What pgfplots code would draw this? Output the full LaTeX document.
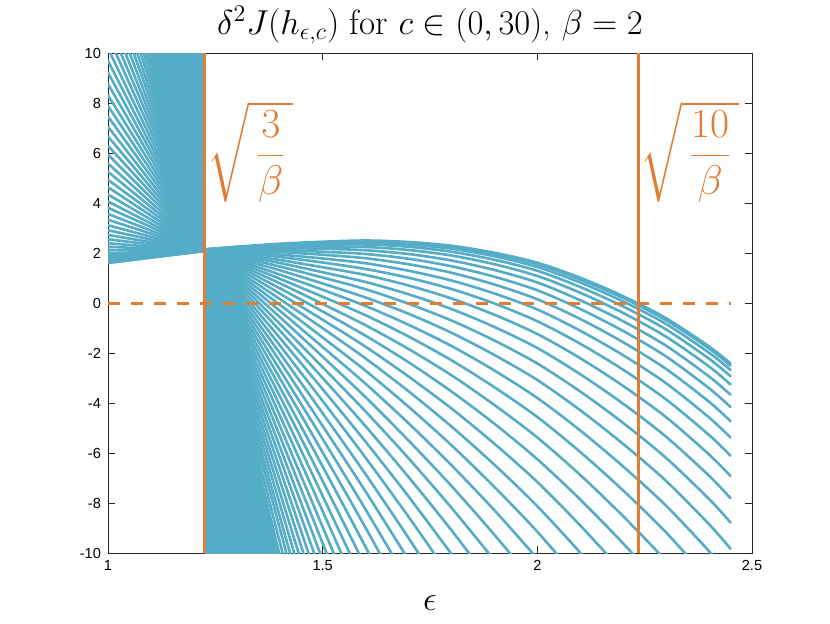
\documentclass[border=0pt]{standalone}
\usepackage{exscale}
\usepackage{pgfplots}
\pgfplotsset{compat=1.18}
\usepackage{fontspec}
\newfontfamily\tickfont{Liberation Sans}
\definecolor{curve}{RGB}{84,172,199}
\definecolor{mlorange}{RGB}{224,124,52}
\pgfplotsset{fam/.style={color=curve, line width=1.3pt, no markers, smooth, tension=0.5, line join=round, line cap=round}}

\begin{document}
\begin{tikzpicture}
\path[use as bounding box] (0,0) rectangle (415pt,311.5pt);
\begin{axis}[
  at={(54pt,35pt)}, anchor=south west,
  width=322pt, height=250pt, scale only axis,
  xmin=1, xmax=2.5, ymin=-10, ymax=10,
  xtick={1,1.5,2,2.5}, ytick={-10,-8,-6,-4,-2,0,2,4,6,8,10},
  tick align=inside, major tick length=3.5pt,
  axis line style={black!85, line width=0.4pt},
  every tick/.style={black!85, line width=0.4pt},
  ticklabel style={font=\tickfont\fontsize{7.3}{9}\selectfont, /pgf/number format/assume math mode=true},
  title={$\delta^2 J(h_{\epsilon,c})$ for $c \in (0,30)$, $\beta = 2$},
  title style={at={(0.5,1)}, anchor=center, yshift=8pt, font=\fontsize{17.5}{21}\selectfont},
  xlabel={$\epsilon$},
  xlabel style={at={(0.5,0)}, anchor=center, yshift=-25pt, font=\fontsize{18}{21}\selectfont},
]
% left branch, eps < sqrt(3/beta): value at eps=1 for each c
\addplot[draw=none, fill=curve] coordinates {(1.2247,2.08) (1,16.54) (1.2247,16.54)} -- cycle;
\pgfplotsinvokeforeach{1.60,1.62,1.64,1.69,1.74,1.82,1.90,2.00,2.12,2.25,2.39,2.55,2.72,2.91,3.11,3.33,3.56,3.81,4.06,4.34,4.63,4.93,5.25,5.58,5.93,6.29,6.66,7.05,7.46,7.88,8.31,8.76,9.22,9.69,10.18,10.69,11.21,11.74,12.29,12.86,13.43,14.03,14.63,15.25,15.89,16.54}{
  \addplot[fam] coordinates {(1,#1) (1.2247,2.08)};
}
% right branch, eps > sqrt(3/beta)
\addplot[draw=none, fill=curve] coordinates {(1.2247,2.14) (1.3,-3.10) (1.4,-10.08) (1.2247,-10.08)} -- cycle;
\addplot[fam] coordinates {(1.2247,2.14)(1.3,2.25)(1.4,2.37)(1.5,2.45)(1.6,2.50)(1.7,2.44)(1.8,2.29)(1.9,2.01)(2.0,1.61)(2.1,1.01)(2.2,0.27)(2.3,-0.61)(2.4,-1.74)(2.45,-2.42)};
\addplot[fam] coordinates {(1.2247,2.14)(1.3,2.24)(1.4,2.35)(1.5,2.43)(1.6,2.47)(1.7,2.41)(1.8,2.25)(1.9,1.96)(2.0,1.55)(2.1,0.94)(2.2,0.20)(2.3,-0.69)(2.4,-1.82)(2.45,-2.51)};
\addplot[fam] coordinates {(1.2247,2.14)(1.3,2.23)(1.4,2.33)(1.5,2.39)(1.6,2.42)(1.7,2.34)(1.8,2.17)(1.9,1.87)(2.0,1.44)(2.1,0.82)(2.2,0.06)(2.3,-0.84)(2.4,-1.99)(2.45,-2.68)};
\addplot[fam] coordinates {(1.2247,2.14)(1.3,2.22)(1.4,2.29)(1.5,2.33)(1.6,2.34)(1.7,2.25)(1.8,2.05)(1.9,1.73)(2.0,1.29)(2.1,0.64)(2.2,-0.14)(2.3,-1.06)(2.4,-2.23)(2.45,-2.93)};
\addplot[fam] coordinates {(1.2247,2.14)(1.3,2.20)(1.4,2.25)(1.5,2.26)(1.6,2.24)(1.7,2.12)(1.8,1.90)(1.9,1.55)(2.0,1.08)(2.1,0.41)(2.2,-0.40)(2.3,-1.35)(2.4,-2.54)(2.45,-3.26)};
\addplot[fam] coordinates {(1.2247,2.14)(1.3,2.17)(1.4,2.19)(1.5,2.17)(1.6,2.11)(1.7,1.96)(1.8,1.70)(1.9,1.32)(2.0,0.82)(2.1,0.11)(2.2,-0.73)(2.3,-1.71)(2.4,-2.94)(2.45,-3.67)};
\addplot[fam] coordinates {(1.2247,2.14)(1.3,2.14)(1.4,2.12)(1.5,2.05)(1.6,1.96)(1.7,1.77)(1.8,1.47)(1.9,1.05)(2.0,0.51)(2.1,-0.24)(2.2,-1.12)(2.3,-2.14)(2.4,-3.41)(2.45,-4.16)};
\addplot[fam] coordinates {(1.2247,2.14)(1.3,2.11)(1.4,2.04)(1.5,1.93)(1.6,1.79)(1.7,1.55)(1.8,1.21)(1.9,0.74)(2.0,0.15)(2.1,-0.64)(2.2,-1.57)(2.3,-2.64)(2.4,-3.95)(2.45,-4.73)};
\addplot[fam] coordinates {(1.2247,2.14)(1.3,2.07)(1.4,1.94)(1.5,1.78)(1.6,1.59)(1.7,1.29)(1.8,0.90)(1.9,0.38)(2.0,-0.26)(2.1,-1.11)(2.2,-2.09)(2.3,-3.21)(2.4,-4.58)(2.45,-5.38)};
\addplot[fam] coordinates {(1.2247,2.14)(1.3,2.02)(1.4,1.84)(1.5,1.62)(1.6,1.36)(1.7,1.01)(1.8,0.56)(1.9,-0.02)(2.0,-0.73)(2.1,-1.63)(2.2,-2.67)(2.3,-3.86)(2.4,-5.28)(2.45,-6.11)};
\addplot[fam] coordinates {(1.2247,2.14)(1.3,1.97)(1.4,1.72)(1.5,1.43)(1.6,1.12)(1.7,0.70)(1.8,0.18)(1.9,-0.47)(2.0,-1.24)(2.1,-2.21)(2.2,-3.32)(2.3,-4.57)(2.4,-6.06)(2.45,-6.92)};
\addplot[fam] coordinates {(1.2247,2.14)(1.3,1.92)(1.4,1.60)(1.5,1.23)(1.6,0.84)(1.7,0.35)(1.8,-0.24)(1.9,-0.96)(2.0,-1.80)(2.1,-2.85)(2.2,-4.03)(2.3,-5.35)(2.4,-6.91)(2.45,-7.81)};
\addplot[fam] coordinates {(1.2247,2.14)(1.3,1.86)(1.4,1.46)(1.5,1.02)(1.6,0.55)(1.7,-0.03)(1.8,-0.70)(1.9,-1.50)(2.0,-2.42)(2.1,-3.54)(2.2,-4.80)(2.3,-6.20)(2.4,-7.84)(2.45,-8.78)};
\addplot[fam] coordinates {(1.2247,2.14)(1.3,1.79)(1.4,1.31)(1.5,0.78)(1.6,0.22)(1.7,-0.43)(1.8,-1.19)(1.9,-2.08)(2.0,-3.08)(2.1,-4.29)(2.2,-5.64)(2.3,-7.12)(2.4,-8.85)(2.45,-9.83)};
\addplot[fam] coordinates {(1.2247,2.14)(1.3,1.72)(1.4,1.14)(1.5,0.53)(1.6,-0.12)(1.7,-0.87)(1.8,-1.72)(1.9,-2.70)(2.0,-3.80)(2.1,-5.10)(2.2,-6.54)(2.3,-8.11)(2.4,-9.93)(2.45,-10.96)};
\addplot[fam] coordinates {(1.2247,2.14)(1.3,1.65)(1.4,0.97)(1.5,0.25)(1.6,-0.49)(1.7,-1.34)(1.8,-2.29)(1.9,-3.37)(2.0,-4.56)(2.1,-5.96)(2.2,-7.50)(2.3,-9.18)(2.4,-11.09)};
\addplot[fam] coordinates {(1.2247,2.14)(1.3,1.57)(1.4,0.79)(1.5,-0.04)(1.6,-0.89)(1.7,-1.84)(1.8,-2.89)(1.9,-4.08)(2.0,-5.38)(2.1,-6.88)(2.2,-8.53)(2.3,-10.31)};
\addplot[fam] coordinates {(1.2247,2.14)(1.3,1.49)(1.4,0.59)(1.5,-0.34)(1.6,-1.31)(1.7,-2.37)(1.8,-3.54)(1.9,-4.83)(2.0,-6.25)(2.1,-7.86)(2.2,-9.62)(2.3,-11.51)};
\addplot[fam] coordinates {(1.2247,2.14)(1.3,1.40)(1.4,0.38)(1.5,-0.67)(1.6,-1.75)(1.7,-2.94)(1.8,-4.22)(1.9,-5.63)(2.0,-7.16)(2.1,-8.90)(2.2,-10.77)};
\addplot[fam] coordinates {(1.2247,2.14)(1.3,1.30)(1.4,0.16)(1.5,-1.01)(1.6,-2.22)(1.7,-3.53)(1.8,-4.94)(1.9,-6.47)(2.0,-8.13)(2.1,-9.99)(2.2,-11.99)};
\addplot[fam] coordinates {(1.2247,2.14)(1.3,1.20)(1.4,-0.07)(1.5,-1.38)(1.6,-2.71)(1.7,-4.15)(1.8,-5.69)(1.9,-7.36)(2.0,-9.15)(2.1,-11.14)};
\addplot[fam] coordinates {(1.2247,2.14)(1.3,1.10)(1.4,-0.31)(1.5,-1.76)(1.6,-3.23)(1.7,-4.81)(1.8,-6.49)(1.9,-8.29)(2.0,-10.22)};
\addplot[fam] coordinates {(1.2247,2.14)(1.3,0.99)(1.4,-0.56)(1.5,-2.15)(1.6,-3.77)(1.7,-5.50)(1.8,-7.32)(1.9,-9.27)(2.0,-11.34)};
\addplot[fam] coordinates {(1.2247,2.14)(1.3,0.88)(1.4,-0.83)(1.5,-2.57)(1.6,-4.34)(1.7,-6.21)(1.8,-8.19)(1.9,-10.29)};
\addplot[fam] coordinates {(1.2247,2.14)(1.3,0.76)(1.4,-1.10)(1.5,-3.00)(1.6,-4.93)(1.7,-6.96)(1.8,-9.09)(1.9,-11.35)};
\addplot[fam] coordinates {(1.2247,2.14)(1.3,0.63)(1.4,-1.39)(1.5,-3.45)(1.6,-5.55)(1.7,-7.74)(1.8,-10.04)};
\addplot[fam] coordinates {(1.2247,2.14)(1.3,0.51)(1.4,-1.69)(1.5,-3.92)(1.6,-6.19)(1.7,-8.55)(1.8,-11.02)};
\addplot[fam] coordinates {(1.2247,2.14)(1.3,0.37)(1.4,-2.00)(1.5,-4.41)(1.6,-6.85)(1.7,-9.40)(1.8,-12.04)};
\addplot[fam] coordinates {(1.2247,2.14)(1.3,0.23)(1.4,-2.32)(1.5,-4.92)(1.6,-7.54)(1.7,-10.27)};
\addplot[fam] coordinates {(1.2247,2.14)(1.3,0.09)(1.4,-2.66)(1.5,-5.44)(1.6,-8.26)(1.7,-11.17)};
\addplot[fam] coordinates {(1.2247,2.14)(1.3,-0.06)(1.4,-3.00)(1.5,-5.98)(1.6,-8.99)(1.7,-12.11)};
\addplot[fam] coordinates {(1.2247,2.14)(1.3,-0.21)(1.4,-3.36)(1.5,-6.54)(1.6,-9.76)(1.7,-13.07)};
\addplot[fam] coordinates {(1.2247,2.14)(1.3,-0.37)(1.4,-3.72)(1.5,-7.12)(1.6,-10.55)};
\addplot[fam] coordinates {(1.2247,2.14)(1.3,-0.53)(1.4,-4.10)(1.5,-7.72)(1.6,-11.36)};
\addplot[fam] coordinates {(1.2247,2.14)(1.3,-0.70)(1.4,-4.49)(1.5,-8.33)(1.6,-12.19)};
\addplot[fam] coordinates {(1.2247,2.14)(1.3,-0.87)(1.4,-4.90)(1.5,-8.96)(1.6,-13.05)};
\addplot[fam] coordinates {(1.2247,2.14)(1.3,-1.05)(1.4,-5.31)(1.5,-9.61)(1.6,-13.94)};
\addplot[fam] coordinates {(1.2247,2.14)(1.3,-1.23)(1.4,-5.74)(1.5,-10.28)};
\addplot[fam] coordinates {(1.2247,2.14)(1.3,-1.42)(1.4,-6.17)(1.5,-10.96)};
\addplot[fam] coordinates {(1.2247,2.14)(1.3,-1.61)(1.4,-6.62)(1.5,-11.67)};
\addplot[fam] coordinates {(1.2247,2.14)(1.3,-1.81)(1.4,-7.08)(1.5,-12.39)};
\addplot[fam] coordinates {(1.2247,2.14)(1.3,-2.01)(1.4,-7.55)(1.5,-13.13)};
\addplot[fam] coordinates {(1.2247,2.14)(1.3,-2.22)(1.4,-8.03)(1.5,-13.88)};
\addplot[fam] coordinates {(1.2247,2.14)(1.3,-2.43)(1.4,-8.53)(1.5,-14.66)};
\addplot[fam] coordinates {(1.2247,2.14)(1.3,-2.65)(1.4,-9.00)(1.5,-15.45)};
\addplot[fam] coordinates {(1.2247,2.14)(1.3,-2.87)(1.4,-9.55)(1.5,-16.26)};
\addplot[fam] coordinates {(1.2247,2.14)(1.3,-3.10)(1.4,-10.08)};
% markers
\addplot[mlorange, line width=1.5pt, dash pattern=on 6pt off 5.5pt] coordinates {(1,0) (2.45,0)};
\addplot[mlorange, line width=1.5pt] coordinates {(1.2247,-10) (1.2247,10)};
\addplot[mlorange, line width=1.5pt] coordinates {(2.2361,-10) (2.2361,10)};
\node[anchor=west, inner sep=0pt, text=mlorange, font=\fontsize{20}{24}\selectfont] at (axis cs:1.2306,6.04) {$\displaystyle\sqrt{\,\frac{3}{\beta}\,}$};
\node[anchor=west, inner sep=0pt, text=mlorange, font=\fontsize{20}{24}\selectfont] at (axis cs:2.2390,6.04) {$\displaystyle\sqrt{\,\frac{10}{\beta}\,}$};
\end{axis}
\end{tikzpicture}
\end{document}
